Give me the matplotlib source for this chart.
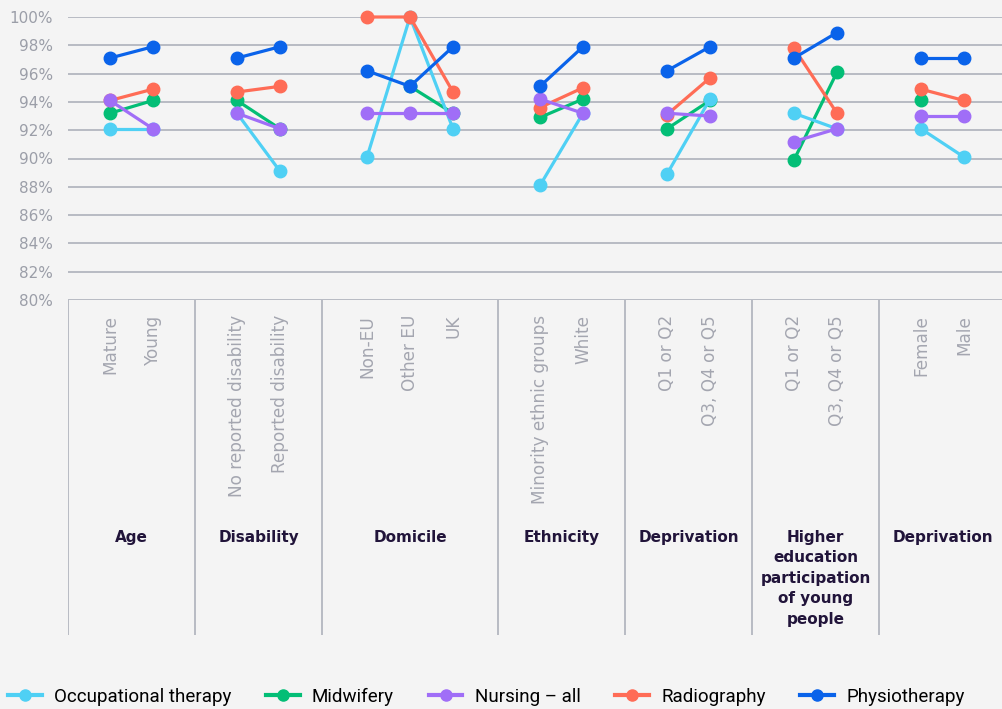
import numpy as np
import matplotlib.pyplot as plt
from matplotlib.lines import Line2D

# groups and their categories
groups = ['Age', 'Disability', 'Domicile', 'Ethnicity', 'Deprivation',
          'Higher\neducation\nparticipation\nof young\npeople', 'Deprivation']
categories = [['Mature', 'Young'],
              ['No reported disability', 'Reported disability'],
              ['Non-EU', 'Other EU', 'UK'],
              ['Minority ethnic groups', 'White'],
              ['Q1 or Q2', 'Q3, Q4 or Q5'],
              ['Q1 or Q2', 'Q3, Q4 or Q5'],
              ['Female', 'Male']]

# values per series, one list per group (nan = no value)
nan = np.nan
occupational = [[92.1, 92.1], [93.2, 89.1], [90.1, 100, 92.1], [88.1, 93.2],
                [88.9, 94.2], [93.2, 92.1], [92.1, 90.1]]
midwifery = [[93.2, 94.1], [94.1, 92.1], [nan, 95.1, 93.2], [92.9, 94.2],
             [92.1, 94.1], [89.9, 96.1], [94.1, nan]]
nursing = [[94.1, 92.1], [93.2, 92.1], [93.2, 93.2, 93.2], [94.2, 93.2],
           [93.2, 93.0], [91.2, 92.1], [93.0, 93.0]]
radiography = [[94.1, 94.9], [94.7, 95.1], [100, 100, 94.7], [93.6, 95.0],
               [93.1, 95.7], [97.8, 93.2], [94.9, 94.1]]
physio = [[97.1, 97.9], [97.1, 97.9], [96.2, 95.1, 97.9], [95.1, 97.9],
          [96.2, 97.9], [97.1, 98.9], [97.1, 97.1]]

series = [('Occupational therapy', occupational, '#4fd0f4', 3),
          ('Midwifery', midwifery, '#03be76', 2),
          ('Nursing – all', nursing, '#a06ef7', 5),
          ('Radiography', radiography, '#ff6c56', 4),
          ('Physiotherapy', physio, '#0a63ea', 6)]

bg = '#f4f4f4'
grey = '#9b9ea8'
linec = '#b3b6bf'
dark = '#21143a'

W, H = 1002, 709
fig = plt.figure(figsize=(W / 100, H / 100), dpi=100, facecolor=bg)

x0, ytop, ybot, ysep = 68, 17, 300, 635
ax = fig.add_axes([x0 / W, 1 - ybot / H, (W - x0) / W, (ybot - ytop) / H])
ax.set_facecolor(bg)
ax.set_xlim(x0, W)
ax.set_ylim(80, 100)
for s in ax.spines.values():
    s.set_visible(False)
ax.set_yticks(np.arange(80, 101, 2))
ax.set_yticklabels([f'{v}%' for v in range(80, 101, 2)])
ax.tick_params(axis='y', length=0, pad=11, labelsize=11, labelcolor=grey)
ax.set_xticks([])
for v in range(80, 101, 2):
    ax.axhline(v, color=linec, lw=1.3, zorder=0)

# x layout: band widths by number of categories, points spaced inside
band_w = {2: 127, 3: 176}
step = 43
edges = [x0]
pos = []
for cats in categories:
    left = edges[-1]
    w = band_w[len(cats)]
    c = left + w / 2
    pos.append([c + (i - (len(cats) - 1) / 2) * step for i in range(len(cats))])
    edges.append(left + w)

for name, vals, col, z in series:
    for gx, gv in zip(pos, vals):
        ax.plot(gx, gv, color=col, lw=2.3, marker='o', ms=9, zorder=z,
                solid_capstyle='round', clip_on=False)

# bottom label area
bx = fig.add_axes([x0 / W, 1 - ysep / H, (W - x0) / W, (ysep - ybot) / H])
bx.set_xlim(x0, W)
bx.set_ylim(ysep, ybot)
bx.axis('off')
for e in edges[:-1]:
    bx.plot([e, e], [ybot, ysep], color=linec, lw=1.3)
for g, cats, gx, l, r in zip(groups, categories, pos, edges[:-1], edges[1:]):
    for c, x in zip(cats, gx):
        bx.text(x, 315, c, rotation=90, ha='center', va='top', color='#a4a6b0',
                fontsize=12.2)
    bx.text((l + r) / 2, 530, g, ha='center', va='top', color=dark,
            fontsize=11, fontweight='bold', linespacing=1.45)

handles = [Line2D([], [], color=col, lw=3, marker='o', ms=8)
           for name, vals, col, z in series]
fig.legend(handles, [s[0] for s in series], loc='center left',
           bbox_to_anchor=(8 / W, 1 - 697 / H), ncol=5, frameon=False,
           handlelength=1.8, columnspacing=1.85, handletextpad=0.65,
           borderpad=0, borderaxespad=0,
           prop={'family': 'Roboto', 'size': 13.5})

fig.savefig('out.png', dpi=100, facecolor=bg)
